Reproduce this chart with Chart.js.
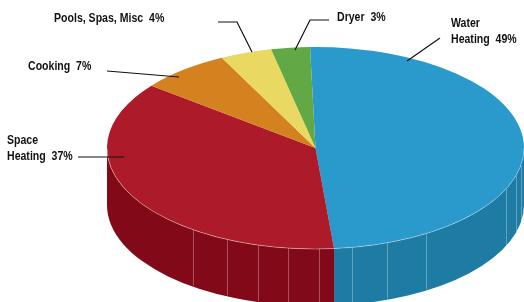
<!DOCTYPE html>
<html>
<head>
<meta charset="utf-8">
<script src="https://cdn.jsdelivr.net/npm/chart.js@4.4.0/dist/chart.umd.min.js"></script>
<style>
  html, body { margin: 0; padding: 0; background: #fff; }
  #pie { display: block; }
</style>
</head>
<body>
<canvas id="pie" width="524" height="302"></canvas>
<script>
// data, clockwise from 12 o'clock
const categories = ['Water\nHeating', 'Space\nHeating', 'Cooking', 'Pools, Spas, Misc', 'Dryer'];
const shares = [49, 37, 7, 4, 3];

const topColors = ['#2a9acc', '#ad1b2a', '#d4811f', '#e9d962', '#62a844'];
const sideColors = ['#1e7ba4', '#820917', '#a5600f', '#b9a83d', '#457e2d'];

// where the tilted pie sits on the canvas
const CX = 315.5, CY = 148, RX = 208.5, RY = 101, DEPTH = 57;

// light seams on the wall, degrees from 3 o'clock
const seams = [10, 16, 24, 58, 70, 80, 89, 97.5, 106, 115, 126];

// label spots: text left, middle of first line, leader polyline
const labelSpots = [
  { x: 451, y: 24, line: [[440, 38], [407, 61]] },
  { x: 7, y: 141, line: [[78, 157], [124, 157]] },
  { x: 28, y: 67, line: [[107, 71], [179, 77]] },
  { x: 54, y: 19, line: [[218, 22], [237, 22], [252, 52]] },
  { x: 337, y: 18, line: [[329, 20], [310, 20], [295, 50]] }
];

const FONT = 'bold 12px "Liberation Sans", Arial, sans-serif';
const SQUEEZE = 0.88; // narrow face look

function frontPart(s, e) {
    const a = Math.max(s, 0), b = Math.min(e, Math.PI);
    return a < b ? [a, b] : null;
}

const tilt = {
    id: 'tilt',
    beforeDatasetsDraw(chart) {
        const ctx = chart.ctx;
        const arcs = chart.getDatasetMeta(0).data;

        // the walls first
        arcs.forEach((arc, i) => {
            const p = arc.getProps(['startAngle', 'endAngle'], true);
            const part = frontPart(p.startAngle, p.endAngle);
            if (!part) return;
            const [a, b] = part;
            ctx.save();
            ctx.beginPath();
            ctx.ellipse(CX, CY, RX, RY, 0, a, b);
            ctx.lineTo(CX + RX * Math.cos(b), CY + DEPTH + RY * Math.sin(b));
            ctx.ellipse(CX, CY + DEPTH, RX, RY, 0, b, a, true);
            ctx.closePath();
            ctx.fillStyle = sideColors[i];
            ctx.fill();
            ctx.restore();
        });

        ctx.save();
        ctx.strokeStyle = 'rgba(255,255,255,0.3)';
        ctx.lineWidth = 1;
        seams.forEach(d => {
            const t = d * Math.PI / 180;
            const x = Math.round(CX + RX * Math.cos(t)) + 0.5;
            const y = CY + RY * Math.sin(t);
            ctx.beginPath();
            ctx.moveTo(x, y);
            ctx.lineTo(x, y + DEPTH * 0.98);
            ctx.stroke();
        });
        ctx.restore();

        // squash the library's round pie into the top ellipse
        const p0 = arcs[0].getProps(['x', 'y', 'outerRadius'], true);
        ctx.save();
        ctx.translate(CX, CY);
        ctx.scale(RX / p0.outerRadius, RY / p0.outerRadius);
        ctx.translate(-p0.x, -p0.y);
    },
    afterDatasetsDraw(chart) {
        const ctx = chart.ctx;
        ctx.restore();

        // thin light rim along the front edge
        ctx.save();
        ctx.beginPath();
        ctx.ellipse(CX, CY, RX, RY, 0, 0, Math.PI);
        ctx.strokeStyle = 'rgba(255,255,255,0.35)';
        ctx.lineWidth = 1;
        ctx.stroke();
        ctx.restore();
    },
    afterDraw(chart) {
        const ctx = chart.ctx;
        ctx.save();
        ctx.strokeStyle = '#111';
        ctx.lineWidth = 1.2;
        labelSpots.forEach((spot, i) => {
            const lines = categories[i].split('\n');
            lines[lines.length - 1] += '  ' + shares[i] + '%';
            ctx.save();
            ctx.font = FONT;
            ctx.fillStyle = '#111';
            ctx.textBaseline = 'middle';
            ctx.translate(spot.x, spot.y);
            ctx.scale(SQUEEZE, 1);
            lines.forEach((txt, k) => ctx.fillText(txt, 0, k * 16));
            ctx.restore();
            ctx.beginPath();
            spot.line.forEach(([x, y], k) => k ? ctx.lineTo(x, y) : ctx.moveTo(x, y));
            ctx.stroke();
        });
        ctx.restore();
    }
};

new Chart(document.getElementById('pie'), {
    type: 'pie',
    data: {
        labels: categories,
        datasets: [{
            data: shares,
            backgroundColor: topColors,
            borderWidth: 0,
            clip: false
        }]
    },
    options: {
        responsive: false,
        animation: false,
        events: [],
        rotation: -1.5,
        plugins: {
            legend: { display: false },
            tooltip: { enabled: false }
        }
    },
    plugins: [tilt]
});
</script>
</body>
</html>
